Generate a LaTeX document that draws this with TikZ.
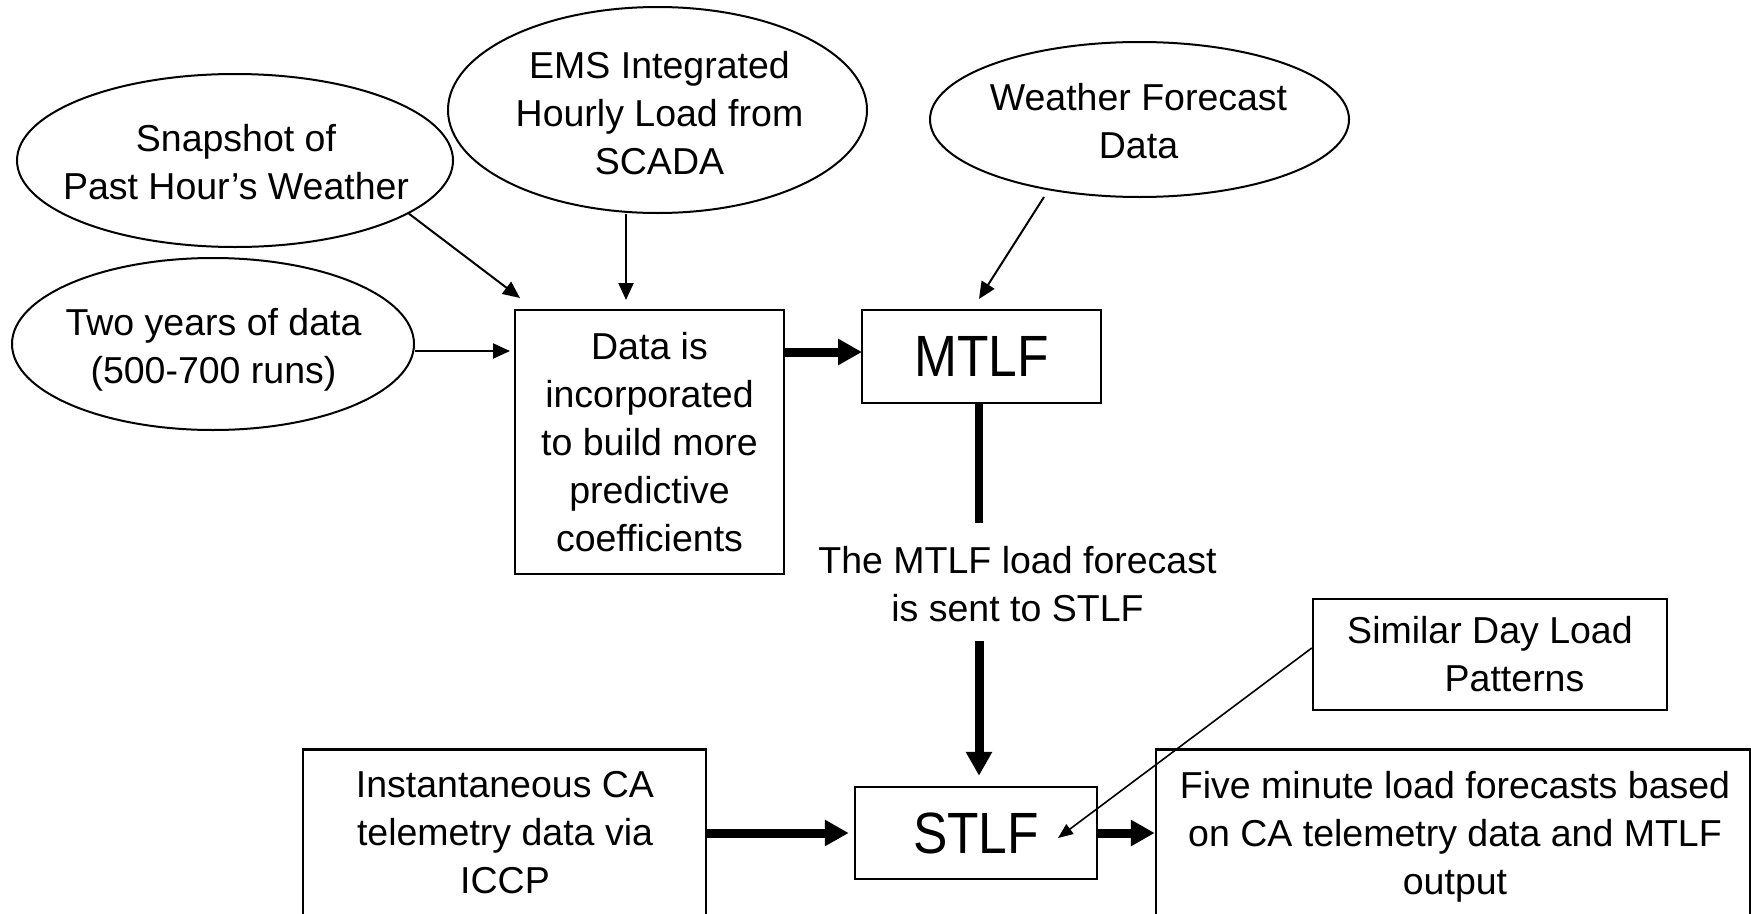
\documentclass[tikz,border=0pt]{standalone}
\usepackage{fontspec}
\setmainfont{Liberation Sans}
\usepackage{graphicx}
\usetikzlibrary{shapes.geometric,arrows.meta}
\begin{document}
\begin{tikzpicture}[x=1pt,y=-1pt,
  oval/.style={ellipse, draw, line width=2pt, inner sep=0pt},
  box/.style={rectangle, draw, line width=2.5pt, inner sep=0pt},
  txt/.style={align=center, inner sep=0pt, font=\fontsize{37.5}{48}\selectfont},
  big/.style={font=\fontsize{51.5}{60}\selectfont},
  thinarr/.style={line width=2pt, -{Triangle[length=17pt,width=15pt]}},
  simarr/.style={line width=1.6pt, -{Triangle[length=15pt,width=12pt]}},
  thickarr/.style={line width=9pt, -{Triangle[length=24pt,width=25pt]}},
  thickline/.style={line width=8.5pt},
]
\useasboundingbox (0,0) rectangle (1751,913);
\clip (0,0) rectangle (1751,913);

% ellipses
\node[oval, minimum width=436, minimum height=173] (snap) at (235,160.5) {};
\node[txt] (snapt) at (236,162) {Snapshot of\\Past Hour’s Weather};
\node[oval, minimum width=419, minimum height=206] (ems) at (657.5,110) {};
\node[txt] (emst) at (659.5,113.5) {EMS Integrated\\Hourly Load from\\SCADA};
\node[oval, minimum width=402, minimum height=172] (two) at (213,344) {};
\node[txt] (twot) at (213.5,349.5) {Two years of data\\(500-700 runs)};
\node[oval, minimum width=419, minimum height=155] (wfd) at (1139.5,119.5) {};
\node[txt] (wfdt) at (1138.5,121) {Weather Forecast\\Data};

% boxes
\node[box, txt, minimum width=269, minimum height=264] (data) at (649.5,442)
  {Data is\\incorporated\\to build more\\predictive\\coefficients};
\node[box, big, minimum width=239, minimum height=93] (mtlf) at (981.5,356.5)
  {\scalebox{1}[1.13]{MTLF}};
\node[box, big, minimum width=242, minimum height=92] (stlf) at (976,833)
  {\scalebox{1}[1.13]{STLF}};
\node[box, txt, minimum width=354, minimum height=111] (sim) at (1490,654.5)
  {Similar Day Load\\\hspace*{49pt}Patterns};
\node[box, anchor=north, minimum width=403, minimum height=220] (inst) at (504.5,748) {};
\node[txt] (instt) at (505,832.5) {Instantaneous CA\\telemetry data via\\ICCP};
\node[box, anchor=north, minimum width=594, minimum height=220] (five) at (1453,748) {};
\node[txt] (fivet) at (1455,836.5)
  {Five minute load forecasts based\\on CA telemetry data and MTLF\\output};
\node[txt] (lbl) at (1017.5,584) {The MTLF load forecast\\is sent to STLF};

% coordinates for free ends
\coordinate (t1) at (520,298);
\coordinate (t2) at (626,300);
\coordinate (t3) at (510,351);
\coordinate (w0) at (1044,197);
\coordinate (t4) at (979,299);
\coordinate (a1) at (862,352);
\coordinate (m1) at (979,523);
\coordinate (m2) at (979,641);
\coordinate (t5) at (1058,838);

% connectors
\draw[thinarr] (snap.-17) -- (t1);
\draw[thinarr] (ems.south -| t2) -- (t2);
\draw[thinarr] (two.east |- t3) -- (t3);
\draw[thinarr] (w0) -- (t4);
\draw[thickarr] (data.east |- a1) -- (a1);
\draw[thickline] (mtlf.south -| m1) -- (m1);
\draw[thickarr, shorten >=10pt] (m2) -- (stlf.north -| m2);
\draw[thickarr, shorten >=5pt] (inst.east |- stlf.west) -- (stlf.west);
\draw[thickarr] (stlf.east) -- (five.west |- stlf.east);
\draw[simarr] ([yshift=6.5pt]sim.west) -- (t5);
\end{tikzpicture}
\end{document}
